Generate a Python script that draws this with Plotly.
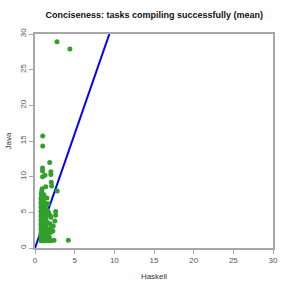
import plotly.graph_objects as go

# --- data ---
haskell = [
    0.75, 0.8, 0.75, 0.8, 0.75, 0.8, 0.75, 0.8, 0.75, 0.8, 0.75, 0.8, 0.75, 0.8, 0.75, 0.8, 0.75, 0.8, 0.75, 0.8, 0.75, 0.8, 0.78, 0.85, 0.9,
    1.0, 1.05, 1.1, 1.0, 1.15, 1.05, 1.1, 1.0, 1.2, 1.05, 1.1, 1.0, 1.2, 1.05, 1.1, 1.0, 1.15, 1.05, 1.1, 1.0, 1.2, 1.1,
    1.3, 1.4, 1.35, 1.5, 1.3, 1.45, 1.35, 1.55, 1.4, 1.3, 1.5, 1.35, 1.45, 1.3, 1.4, 1.35, 1.5,
    1.7, 1.9, 2.0, 1.8, 1.7, 2.0, 1.8, 2.1, 1.9, 2.3, 2.25, 1.9, 2.0, 1.7, 2.6, 2.6, 2.5, 2.4, 1.85, 2.0, 2.0, 2.06, 2.8, 2.1, 1.65,
    0.97, 0.97, 0.95, 0.95, 1.26, 0.95,
    2.77, 4.4, 4.2,
]
java = [
    1.0, 1.2, 1.5, 1.8, 2.1, 2.4, 2.7, 3.0, 3.3, 3.6, 3.9, 4.2, 4.5, 4.8, 5.1, 5.4, 5.7, 6.0, 6.3, 6.6, 6.9, 7.2, 7.6, 8.0, 8.3,
    1.0, 1.3, 1.6, 2.0, 2.3, 2.6, 2.9, 3.2, 3.5, 3.8, 4.1, 4.4, 4.7, 5.0, 5.3, 5.6, 5.9, 6.2, 6.5, 6.8, 7.1, 7.5,
    1.0, 1.2, 1.6, 2.0, 2.4, 2.8, 3.2, 3.5, 3.9, 4.3, 4.6, 5.0, 5.4, 5.8, 6.2, 8.6, 7.0,
    1.0, 1.1, 1.0, 1.5, 2.0, 2.2, 2.6, 3.0, 3.4, 3.1, 2.4, 4.6, 4.3, 5.0, 5.1, 4.6, 3.8, 1.1, 12.0, 10.7, 10.3, 9.2, 8.0, 8.7, 6.2,
    15.7, 14.3, 11.2, 10.8, 10.2, 10.0,
    28.9, 27.9, 1.1,
]
line_x = [0, 9.375]
line_y = [0, 30]
ticks = [0, 5, 10, 15, 20, 25, 30]

fig = go.Figure()
fig.add_trace(go.Scatter(x=line_x, y=line_y, mode="lines",
                         line=dict(color="#0000ff", width=2), hoverinfo="skip"))
fig.add_trace(go.Scatter(x=haskell, y=java, mode="markers",
                         marker=dict(color="#33a02c", size=5, line=dict(width=0))))

axis_common = dict(range=[0, 30], tickvals=ticks, showgrid=False, zeroline=False,
                   showline=True, linecolor="#a8a8a8", linewidth=1.5, mirror=True,
                   ticks="outside", ticklen=4, tickcolor="#a8a8a8", automargin=False,
                   tickfont=dict(family="Liberation Sans, Arial", size=8, color="#555555"))
fig.update_xaxes(**axis_common,
                 title=dict(text="Haskell", font=dict(family="Liberation Sans, Arial", size=8, color="#333333"), standoff=9))
fig.update_yaxes(**axis_common, tickangle=-90,
                 title=dict(text="Java", font=dict(family="Liberation Sans, Arial", size=8, color="#333333"), standoff=6))

fig.update_layout(
    width=291, height=291,
    margin=dict(l=35, r=18, t=34, b=43, autoexpand=False),
    paper_bgcolor="white", plot_bgcolor="white",
    showlegend=False,
    title=dict(text="<b>Conciseness: tasks compiling successfully (mean)</b>",
               font=dict(family="Liberation Sans, Arial", size=9, color="#111111"),
               x=0.53, xanchor="center", y=0.948, yanchor="middle"),
)

fig.write_html("out.html", config={"displayModeBar": False},
               post_script="document.body.style.margin='0';")
